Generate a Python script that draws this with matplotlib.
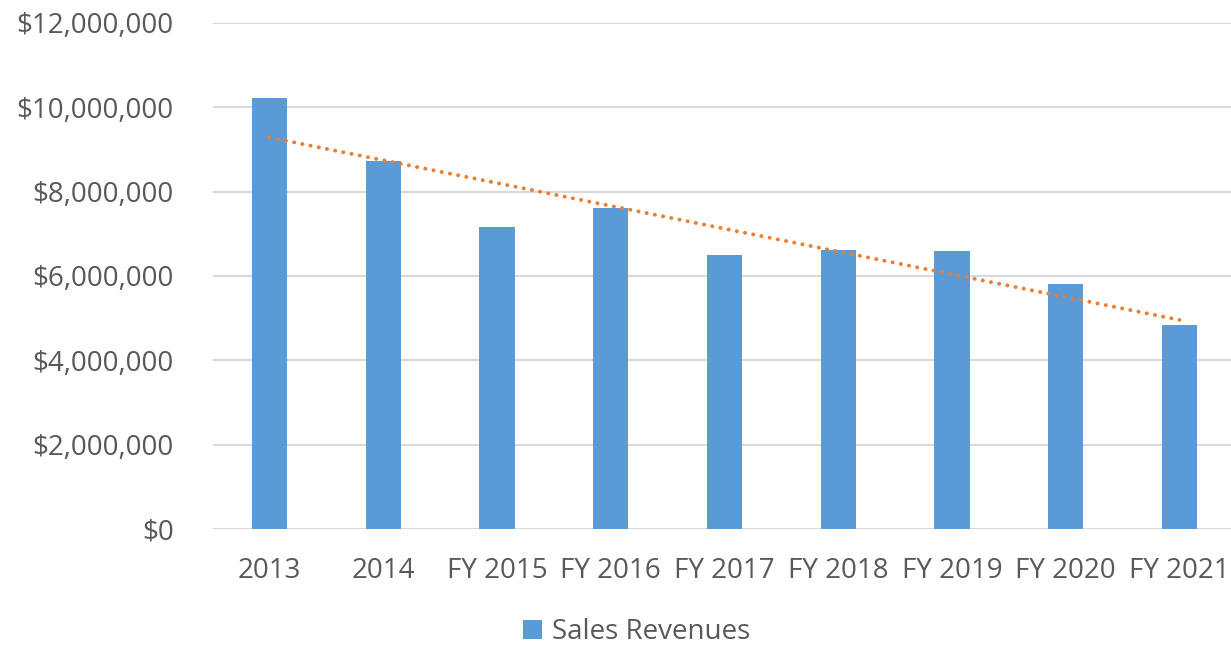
import numpy as np
import matplotlib
matplotlib.use("Agg")
import matplotlib.pyplot as plt
from matplotlib.ticker import FuncFormatter, MultipleLocator

years = ["2013", "2014", "FY 2015", "FY 2016", "FY 2017", "FY 2018",
         "FY 2019", "FY 2020", "FY 2021"]
revenues = [10.22e6, 8.73e6, 7.16e6, 7.62e6, 6.50e6, 6.62e6, 6.59e6, 5.81e6, 4.84e6]

BAR = "#5B9BD5"
TREND = "#ED7D31"
TEXT = "#595959"
GRID = "#D9D9D9"

plt.rcParams["font.family"] = ["Open Sans", "DejaVu Sans"]

fig = plt.figure(figsize=(12.31, 6.45), dpi=100)
ax = fig.add_axes([212.6 / 1231, 115.7 / 645, 1023.75 / 1231, 506.6 / 645])

x = np.arange(len(years))
ax.bar(x, revenues, width=0.31, color=BAR, label="Sales Revenues", zorder=3)

# linear trendline, as in the spreadsheet
slope, icpt = np.polyfit(x, revenues, 1)
ax.plot(x, slope * x + icpt, color=TREND, lw=2.8,
        linestyle=(0, (0.05, 2.1)), dash_capstyle="round", zorder=4)

ax.set_xlim(-0.5, len(years) - 0.5)
ax.set_ylim(0, 12e6)
ax.yaxis.set_major_locator(MultipleLocator(2e6))
ax.yaxis.set_major_formatter(FuncFormatter(lambda v, p: f"${v:,.0f}"))
ax.set_xticks(x)
ax.set_xticklabels(years)

ax.grid(axis="y", color=GRID, lw=1.5, zorder=0)
for s in ax.spines.values():
    s.set_visible(False)
ax.tick_params(length=0, labelsize=20, colors=TEXT)
ax.tick_params(axis="y", pad=28)
ax.tick_params(axis="x", pad=20)

fig.legend(loc="center", bbox_to_anchor=(0.517, 0.02), frameon=False,
           fontsize=20, labelcolor=TEXT, handlelength=0.7, handleheight=0.7,
           handletextpad=0.35)

fig.savefig("out.png", dpi=100)
